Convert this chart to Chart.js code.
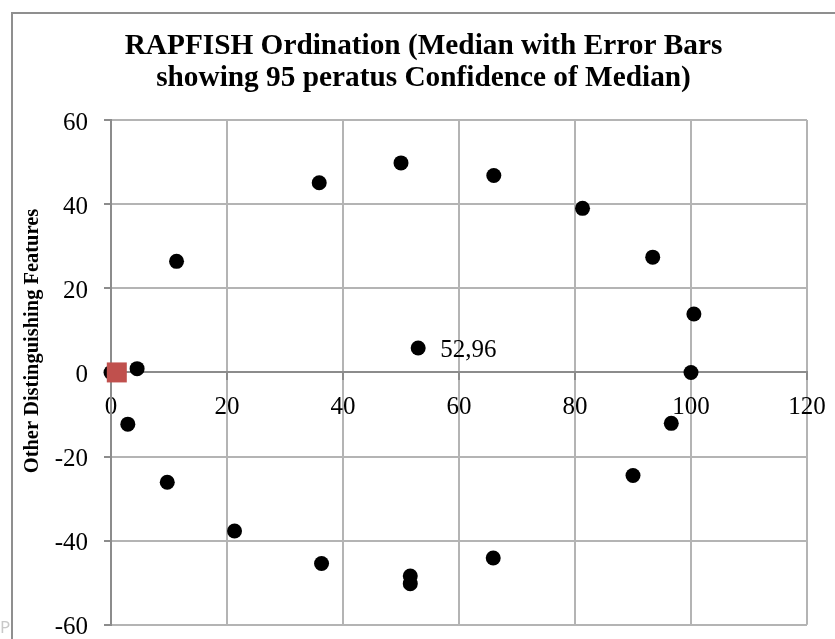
<!DOCTYPE html>
<html>
<head>
<meta charset="utf-8">
<script src="https://cdn.jsdelivr.net/npm/chart.js@4/dist/chart.umd.min.js"></script>
<style>
 html, body { margin: 0; padding: 0; background: #fff; }
</style>
</head>
<body>
<canvas id="myChart" width="835" height="639"></canvas>
<script>
'use strict';

var titleLines = ['RAPFISH Ordination (Median with Error Bars', 'showing 95 peratus Confidence of Median)'];
var yTitle = 'Other Distinguishing Features';
var xRange = [0, 120];
var yRange = [-60, 60];
var tickStep = 20;

var pointsX = [0, 4.5, 2.9, 11.3, 9.7, 21.3, 35.9, 36.3, 50.0, 51.6, 51.6, 66.0, 65.9, 81.3, 93.4, 100.5, 100, 96.6, 90.0];
var pointsY = [0, 0.9, -12.3, 26.4, -26.1, -37.7, 45.1, -45.4, 49.8, -48.4, -50.2, 46.8, -44.1, 39.0, 27.4, 13.9, 0, -12.1, -24.5];
var medianX = [52.96];
var medianY = [5.8];
var squareX = [1];
var squareY = [0];

(function () {

 var serif = '"Liberation Serif", "Times New Roman", serif';
 Chart.defaults.font.family = serif;
 Chart.defaults.color = '#000';

 function pairs(xs, ys) {
  return xs.map(function (x, i) { return { x: x, y: ys[i] }; });
 }

 var extras = {
  id: 'extras',
  beforeDraw: function (chart) {
   var c = chart.ctx;
   c.save();
   c.fillStyle = '#fff';
   c.fillRect(0, 0, chart.width, chart.height);
   c.strokeStyle = '#8f8f8f';
   c.lineWidth = 2;
   c.beginPath();
   c.moveTo(12, chart.height + 2);
   c.lineTo(12, 13);
   c.lineTo(chart.width + 2, 13);
   c.stroke();
   c.fillStyle = '#c8c8c8';
   c.font = '17px "Noto Sans"';
   c.textBaseline = 'alphabetic';
   c.fillText('P', 0, 633);
   c.fillStyle = '#000';
   c.font = 'bold 22px ' + serif;
   c.textAlign = 'center';
   c.textBaseline = 'middle';
   c.translate(32, 341);
   c.rotate(-Math.PI / 2);
   c.scale(0.93, 1);
   c.fillText(yTitle, 0, 0);
   c.restore();
  },
  afterDatasetsDraw: function (chart) {
   var c = chart.ctx;
   c.save();
   c.fillStyle = '#000';
   c.font = '25px ' + serif;
   c.textAlign = 'left';
   c.textBaseline = 'middle';
   chart.getDatasetMeta(1).data.forEach(function (pt, i) {
    c.fillText(medianX[i].toFixed(2).replace('.', ','), pt.x + 22, pt.y + 2);
   });
   c.restore();
  }
 };

 var tickFont = { family: serif, size: 25 };
 var grid = { color: '#b4b4b4', lineWidth: 2, tickLength: 7, tickColor: '#8c8c8c' };
 var border = { color: '#8c8c8c', width: 2 };

 new Chart(document.getElementById('myChart'), {
  type: 'scatter',
  data: {
   datasets: [
    { label: 'ref', data: pairs(squareX, squareY), pointStyle: 'rect', pointRadius: 14.14,
      backgroundColor: '#c0504d', borderWidth: 0, order: 0, clip: false },
    { label: 'median', data: pairs(medianX, medianY), pointRadius: 7.5,
      backgroundColor: '#000', borderWidth: 0, order: 1, clip: false },
    { label: 'points', data: pairs(pointsX, pointsY), pointRadius: 7.5,
      backgroundColor: '#000', borderWidth: 0, order: 2, clip: false }
   ]
  },
  options: {
   responsive: false,
   animation: false,
   events: [],
   layout: { padding: { left: 12, right: 0, top: 0, bottom: 11 } },
   plugins: {
    legend: { display: false },
    tooltip: { enabled: false },
    title: {
     display: true,
     text: titleLines,
     color: '#000',
     font: { family: serif, size: 29.3, weight: 'bold', lineHeight: 32 / 29.3 },
     padding: { top: 30, bottom: 26 }
    }
   },
   scales: {
    x: {
     type: 'linear',
     min: xRange[0], max: xRange[1],
     position: { y: 0 },
     ticks: { stepSize: tickStep, padding: 13, color: '#000', font: tickFont, maxRotation: 0 },
     grid: grid,
     border: border,
     afterFit: function (s) { s.paddingLeft = 0; s.paddingRight = 28; }
    },
    y: {
     type: 'linear',
     min: yRange[0], max: yRange[1],
     position: 'left',
     ticks: { stepSize: tickStep, padding: 16, labelOffset: 3, color: '#000', font: tickFont },
     grid: grid,
     border: border,
     afterFit: function (s) { s.width = 99; s.paddingTop = 0; s.paddingBottom = 0; }
    }
   }
  },
  plugins: [extras]
 });

})();
</script>
</body>
</html>
